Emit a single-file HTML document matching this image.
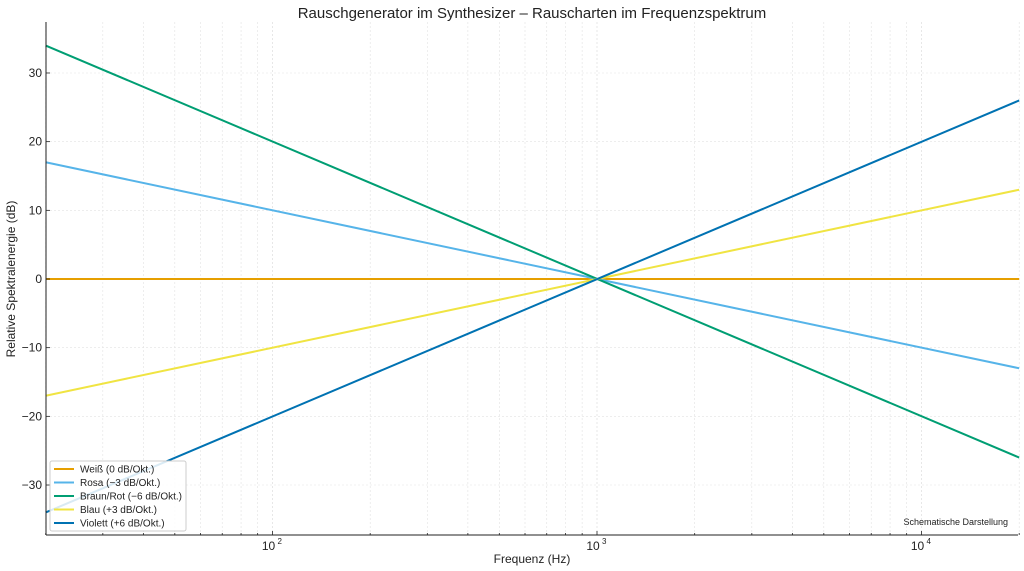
<!DOCTYPE html>
<html><head><meta charset="utf-8"><style>
html,body{margin:0;padding:0;background:#fff;}
svg{display:block;font-family:"Liberation Sans","DejaVu Sans",sans-serif;}
</style></head><body>
<svg id="s" width="1024" height="571" viewBox="0 0 1024 571" xmlns="http://www.w3.org/2000/svg">
<rect width="1024" height="571" fill="#fff"/>
<g id="grid"></g>
<g id="lines"></g>
<line x1="46" y1="22" x2="46" y2="535" stroke="#222" stroke-width="1"/>
<line x1="46" y1="535" x2="1018" y2="535" stroke="#222" stroke-width="1"/>
<g id="ticks"></g>
<text x="532" y="18" font-size="15" text-anchor="middle" fill="#222">Rauschgenerator im Synthesizer – Rauscharten im Frequenzspektrum</text>
<text x="532" y="563" font-size="12" text-anchor="middle" fill="#222">Frequenz (Hz)</text>
<text transform="translate(15,279) rotate(-90)" font-size="12" text-anchor="middle" fill="#222">Relative Spektralenergie (dB)</text>
<text x="1008" y="525" font-size="9" text-anchor="end" fill="#222">Schematische Darstellung</text>
<g>
<rect x="50" y="461" width="136" height="70" rx="2" fill="#fff" fill-opacity="0.85" stroke="#ccc"/>
<line x1="54" x2="74" y1="469" y2="469" stroke="#E69F00" stroke-width="2"/>
<text x="80" y="472.5" font-size="10" fill="#222">Weiß (0 dB/Okt.)</text>
<line x1="54" x2="74" y1="482.5" y2="482.5" stroke="#56B4E9" stroke-width="2"/>
<text x="80" y="486" font-size="10" fill="#222">Rosa (−3 dB/Okt.)</text>
<line x1="54" x2="74" y1="496" y2="496" stroke="#009E73" stroke-width="2"/>
<text x="80" y="499.5" font-size="10" fill="#222">Braun/Rot (−6 dB/Okt.)</text>
<line x1="54" x2="74" y1="509.5" y2="509.5" stroke="#F0E442" stroke-width="2"/>
<text x="80" y="513" font-size="10" fill="#222">Blau (+3 dB/Okt.)</text>
<line x1="54" x2="74" y1="523" y2="523" stroke="#0072B2" stroke-width="2"/>
<text x="80" y="526.5" font-size="10" fill="#222">Violett (+6 dB/Okt.)</text>
</g>
</svg>
<script>
var NS="http://www.w3.org/2000/svg";
function X(f){return 597+324.5*Math.log10(f/1000);}
function Y(v){return 279-6.867*v;}
function el(p,t,a){var e=document.createElementNS(NS,t);for(var k in a)e.setAttribute(k,a[k]);document.getElementById(p).appendChild(e);return e;}
for(var d=10;d<=10000;d*=10){for(var m=1;m<10;m++){var f=d*m;if(f<20||f>20000)continue;var x=X(f);
el("grid","line",{x1:x,x2:x,y1:22,y2:535,stroke:"#e2e2e2","stroke-width":m==1?0.8:0.6,"stroke-dasharray":"2,2"});
el("ticks","line",{x1:x,x2:x,y1:535,y2:m==1?531:533,stroke:"#222","stroke-width":0.8});}}
[100,1000,10000].forEach(function(f,i){var t=el("ticks","text",{x:X(f)-4,y:550,"font-size":12,"text-anchor":"middle",fill:"#222"});t.textContent="10";var s=el("ticks","text",{x:X(f)+5,y:544,"font-size":8,"text-anchor":"start",fill:"#222"});s.textContent=String(i+2);});
for(var v=-30;v<=30;v+=10){var y=Y(v);
el("grid","line",{x1:46,x2:1018,y1:y,y2:y,stroke:"#e2e2e2","stroke-width":0.6,"stroke-dasharray":"2,2"});
el("ticks","line",{x1:46,x2:50,y1:y,y2:y,stroke:"#222","stroke-width":0.8});
var t=el("ticks","text",{x:42,y:y+4,"font-size":12,"text-anchor":"end",fill:"#222"});t.textContent=(v<0?"−"+(-v):v);}
[["#E69F00",0,0],["#56B4E9",17,-13],["#009E73",34,-26],["#F0E442",-17,13],["#0072B2",-34,26]].forEach(function(s){
el("lines","line",{x1:X(20),x2:X(20000),y1:Y(s[1]),y2:Y(s[2]),stroke:s[0],"stroke-width":2});});
</script>
</body></html>
